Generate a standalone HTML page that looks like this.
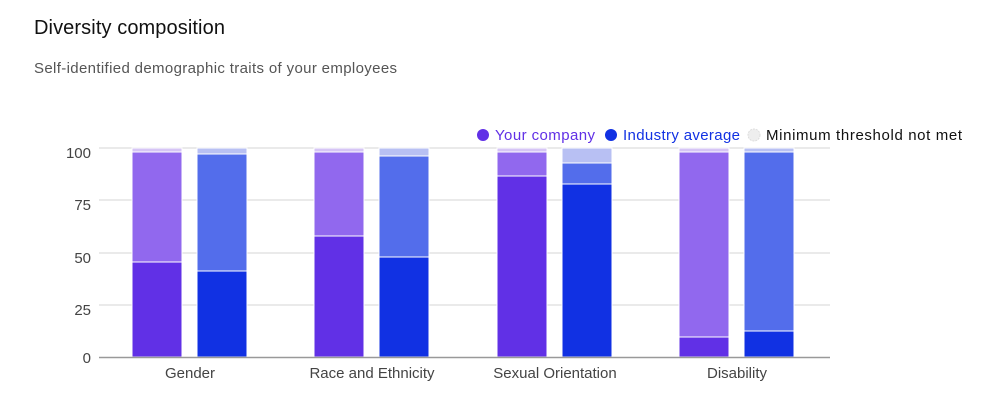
<!DOCTYPE html>
<html><head><style>
body{margin:0;width:995px;height:402px;background:#fff;font-family:"Liberation Sans",sans-serif;overflow:hidden;position:relative}
.t{position:absolute;left:34px;top:17px;font-size:20px;color:#111;letter-spacing:0.1px}
.s{position:absolute;left:34px;top:60px;font-size:15px;color:#555;letter-spacing:0.35px}
</style></head><body>
<div class="t">Diversity composition</div>
<div class="s">Self-identified demographic traits of your employees</div>
<svg width="995" height="402" style="position:absolute;left:0;top:0" font-family="Liberation Sans, sans-serif">
<g stroke="#e3e3e3" stroke-width="1.5">
<line x1="99" x2="830" y1="148" y2="148"/><line x1="99" x2="830" y1="200" y2="200"/>
<line x1="99" x2="830" y1="253" y2="253"/><line x1="99" x2="830" y1="305" y2="305"/>
</g>
<g font-size="15" fill="#444" text-anchor="end">
<text x="91" y="158">100</text><text x="91" y="210">75</text><text x="91" y="263">50</text><text x="91" y="315">25</text><text x="91" y="363">0</text>
</g>
<g stroke="#fff" stroke-width="1">
<rect x="132" y="148" width="50" height="4" fill="#d6c5f5"/><rect x="132" y="152" width="50" height="110" fill="#9168ee"/><rect x="132" y="262" width="50" height="95" fill="#6130e6"/>
<rect x="197" y="148" width="50" height="6" fill="#b8c0f3"/><rect x="197" y="154" width="50" height="117" fill="#536deb"/><rect x="197" y="271" width="50" height="86" fill="#1131e3"/>
<rect x="314" y="148" width="50" height="4" fill="#d6c5f5"/><rect x="314" y="152" width="50" height="84" fill="#9168ee"/><rect x="314" y="236" width="50" height="121" fill="#6130e6"/>
<rect x="379" y="148" width="50" height="8" fill="#b8c0f3"/><rect x="379" y="156" width="50" height="101" fill="#536deb"/><rect x="379" y="257" width="50" height="100" fill="#1131e3"/>
<rect x="497" y="148" width="50" height="4" fill="#d6c5f5"/><rect x="497" y="152" width="50" height="24" fill="#9168ee"/><rect x="497" y="176" width="50" height="181" fill="#6130e6"/>
<rect x="562" y="148" width="50" height="15" fill="#b8c0f3"/><rect x="562" y="163" width="50" height="21" fill="#536deb"/><rect x="562" y="184" width="50" height="173" fill="#1131e3"/>
<rect x="679" y="148" width="50" height="4" fill="#d6c5f5"/><rect x="679" y="152" width="50" height="185" fill="#9168ee"/><rect x="679" y="337" width="50" height="20" fill="#6130e6"/>
<rect x="744" y="148" width="50" height="4" fill="#b8c0f3"/><rect x="744" y="152" width="50" height="179" fill="#536deb"/><rect x="744" y="331" width="50" height="26" fill="#1131e3"/>
</g>
<line x1="99" x2="830" y1="357.5" y2="357.5" stroke="#999" stroke-width="1.5"/>
<g font-size="15" fill="#444" text-anchor="middle">
<text x="190" y="378">Gender</text><text x="372" y="378">Race and Ethnicity</text><text x="555" y="378">Sexual Orientation</text><text x="737" y="378">Disability</text>
</g>
<g font-size="15">
<circle cx="483" cy="135" r="6" fill="#6130e6"/><text x="495" y="140" fill="#6130e6" textLength="100">Your company</text>
<circle cx="611" cy="135" r="6" fill="#1131e3"/><text x="623" y="140" fill="#1131e3" textLength="117">Industry average</text>
<circle cx="754" cy="135" r="6" fill="#eee" stroke="#ddd" stroke-dasharray="2 1"/><text x="766" y="140" fill="#111" textLength="196">Minimum threshold not met</text>
</g>
</svg>
</body></html>
